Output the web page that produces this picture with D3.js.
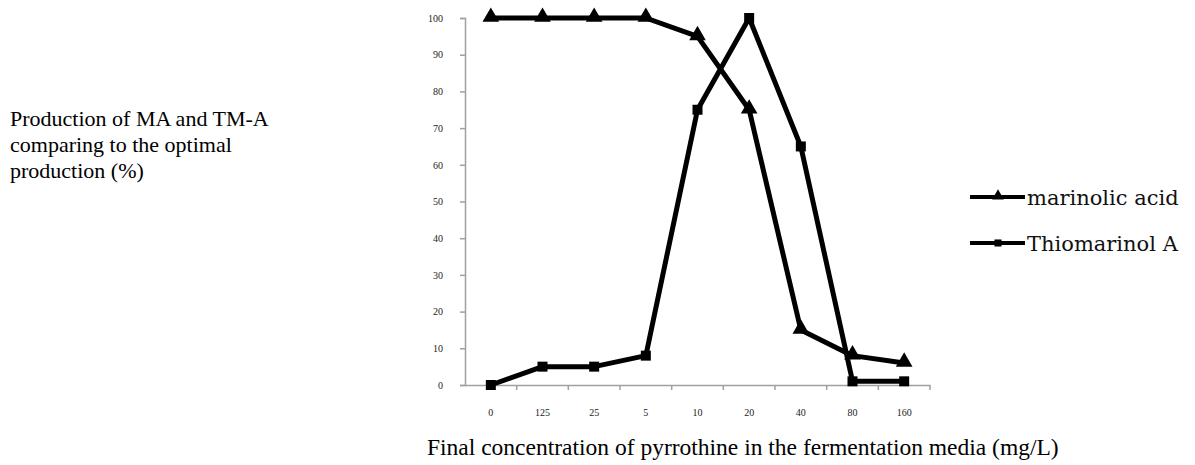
<!DOCTYPE html>
<html lang="en">
<head>
    <meta charset="UTF-8">
    <title>Pyrrothine</title>
    <style>
        body { margin: 0; background: #fff; }
    </style>
</head>
<body>
    <svg id="chart" width="1195" height="465"></svg>
    <script src="https://cdn.jsdelivr.net/npm/d3@7/dist/d3.min.js"></script>
    <script>
        var categories = ["0", "125", "25", "5", "10", "20", "40", "80", "160"];
        var marinolicAcid = [100, 100, 100, 100, 95, 75, 15, 8, 6];
        var thiomarinolA = [0, 5, 5, 8, 75, 100, 65, 1, 1];
        var yTicks = [0, 10, 20, 30, 40, 50, 60, 70, 80, 90, 100];
        var seriesNames = ["marinolic acid", "Thiomarinol A"];

        var svg = d3.select("#chart");

        var x = d3.scaleBand()
            .domain(categories)
            .range([465, 930]);

        var y = d3.scaleLinear()
            .domain([0, 100])
            .range([385, 18]);

        // y axis
        svg.append("g")
            .attr("transform", "translate(465,0)")
            .call(d3.axisLeft(y).tickValues(yTicks).tickSize(5).tickPadding(17))
            .call(g => g.selectAll("line, path").attr("stroke", "#a0a0a0").attr("stroke-width", 1.5))
            .call(g => g.selectAll("text")
                .attr("font-family", "Liberation Serif")
                .attr("font-size", 10)
                .attr("fill", "#222"));

        // x axis
        svg.append("g")
            .attr("transform", "translate(0,385)")
            .call(d3.axisBottom(x).tickSize(0).tickPadding(24))
            .call(g => g.select(".domain").attr("stroke", "#a0a0a0").attr("stroke-width", 1.5))
            .call(g => g.selectAll("text")
                .attr("font-family", "Liberation Serif")
                .attr("font-size", 10)
                .attr("fill", "#222"));

        // x tick marks on band edges
        svg.append("g")
            .selectAll("line")
            .data(categories)
            .join("line")
            .attr("x1", d => x(d) + x.bandwidth())
            .attr("x2", d => x(d) + x.bandwidth())
            .attr("y1", 385)
            .attr("y2", 390)
            .attr("stroke", "#a0a0a0")
            .attr("stroke-width", 1.5);

        var cx = d => x(d) + x.bandwidth() / 2;
        var line = d3.line()
            .x((d, i) => cx(categories[i]))
            .y(d => y(d));

        var tri = d3.symbol().type(d3.symbolTriangle);
        var sq = d3.symbol().type(d3.symbolSquare);

        [marinolicAcid, thiomarinolA].forEach(function (s) {
            svg.append("path")
                .datum(s)
                .attr("fill", "none")
                .attr("stroke", "#000")
                .attr("stroke-width", 5)
                .attr("stroke-linejoin", "round")
                .attr("d", line);
        });

        svg.append("g")
            .selectAll("path")
            .data(marinolicAcid)
            .join("path")
            .attr("transform", (d, i) => `translate(${cx(categories[i])},${y(d) - 1})`)
            .attr("d", tri.size(120))
            .attr("fill", "#000");

        svg.append("g")
            .selectAll("path")
            .data(thiomarinolA)
            .join("path")
            .attr("transform", (d, i) => `translate(${cx(categories[i])},${y(d)})`)
            .attr("d", sq.size(100))
            .attr("fill", "#000");

        // legend
        var legend = svg.append("g")
            .attr("transform", "translate(970,197)");

        legend.selectAll("g")
            .data(seriesNames)
            .join("g")
            .attr("transform", (d, i) => `translate(0,${i * 46})`)
            .each(function (d, i) {
                var g = d3.select(this);
                g.append("line")
                    .attr("x1", 0).attr("x2", 55)
                    .attr("stroke", "#000")
                    .attr("stroke-width", 4);
                g.append("path")
                    .attr("transform", `translate(28,${i === 0 ? -1 : 0})`)
                    .attr("d", i === 0 ? tri.size(60)() : sq.size(50)())
                    .attr("fill", "#000");
                g.append("text")
                    .attr("x", 57)
                    .attr("y", 8)
                    .attr("font-family", "DejaVu Serif")
                    .attr("font-size", 21)
                    .attr("fill", "#111")
                    .text(d);
            });

        // axis titles
        var yTitle = ["Production of MA and TM-A", "comparing to the optimal", "production (%)"];
        svg.append("g")
            .selectAll("text")
            .data(yTitle)
            .join("text")
            .attr("x", 10)
            .attr("y", (d, i) => 126 + i * 26)
            .attr("font-family", "Liberation Serif")
            .attr("font-size", 22)
            .attr("fill", "#000")
            .text(d => d);

        svg.append("text")
            .attr("x", 427)
            .attr("y", 455)
            .attr("font-family", "Liberation Serif")
            .attr("font-size", 23.5)
            .attr("fill", "#000")
            .text("Final concentration of pyrrothine in the fermentation media (mg/L)");
    </script>
</body>
</html>
